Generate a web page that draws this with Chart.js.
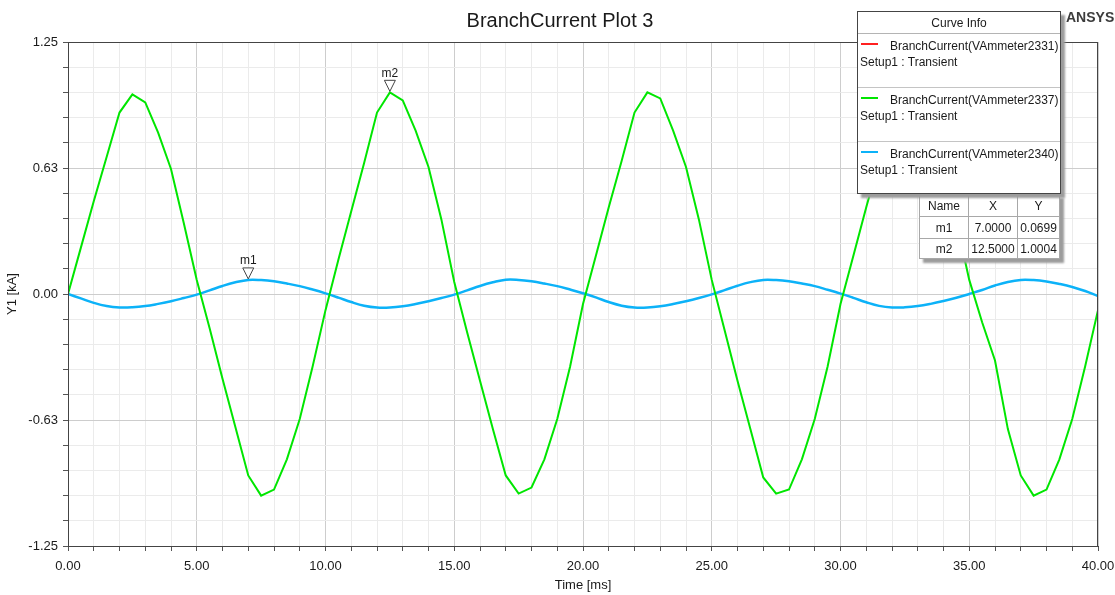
<!DOCTYPE html>
<html>
<head>
<meta charset="utf-8">
<title>BranchCurrent Plot 3</title>
<script src="https://cdn.jsdelivr.net/npm/chart.js@4.4.1/dist/chart.umd.min.js"></script>
<style>
  body { margin: 0; background: #fff; font-family: "Liberation Sans", Arial, sans-serif; color: #1a1a1a; }
  #wrap { position: relative; width: 1115px; height: 595px; }
  #brand { position: absolute; left: 1066px; top: 9px; font-size: 14px; line-height: 16px; font-weight: bold; color: #3c3c3c; }
  #curveInfo { position: absolute; left: 857px; top: 11px; width: 204px; height: 183px; box-sizing: border-box;
    border: 1px solid #444; background: #fff; box-shadow: 4px 4px 2px #9c9c9c; z-index: 3; font-size: 12px; }
  #curveInfo .head { position: absolute; left: 0; top: 0; width: 100%; height: 21px; line-height: 22px; text-align: center;
    border-bottom: 1px solid #b4b4b4; }
  #curveInfo .sep { position: absolute; left: 0; width: 100%; height: 0; border-top: 1px solid #c4c4c4; }
  #curveInfo .swatch { position: absolute; left: 3px; width: 17px; height: 2px; }
  #curveInfo .txt { position: absolute; line-height: 14px; white-space: nowrap; }
  #markerTable { position: absolute; left: 919px; top: 194px; border-collapse: collapse; background: #fff;
    box-shadow: 4px 4px 2px #9c9c9c; z-index: 2; font-size: 12px; border: 1px solid #444; }
  #markerTable td { border: 1px solid #a8a8a8; text-align: center; padding: 0; }
</style>
</head>
<body>
<div id="wrap">
  <canvas id="plot"></canvas>
  <div id="brand">ANSYS</div>
  <div id="curveInfo"></div>
  <table id="markerTable"></table>
</div>
<script>
// time axis [ms] and the branch currents [kA]
const timeMs = [
  0, 0.5, 1, 1.5, 2, 2.5, 3, 3.5, 4, 4.5,
  5, 5.5, 6, 6.5, 7, 7.5, 8, 8.5, 9, 9.5,
  10, 10.5, 11, 11.5, 12, 12.5, 13, 13.5, 14, 14.5,
  15, 15.5, 16, 16.5, 17, 17.5, 18, 18.5, 19, 19.5,
  20, 20.5, 21, 21.5, 22, 22.5, 23, 23.5, 24, 24.5,
  25, 25.5, 26, 26.5, 27, 27.5, 28, 28.5, 29, 29.5,
  30, 30.5, 31, 31.5, 32, 32.5, 33, 33.5, 34, 34.5,
  35, 35.5, 36, 36.5, 37, 37.5, 38, 38.5, 39, 39.5,
  40
];
const iVA2337 = [
  0.00, 0.23, 0.46, 0.68, 0.90, 0.99, 0.95, 0.80, 0.62, 0.35,
  0.07, -0.17, -0.42, -0.66, -0.90, -1.00, -0.97, -0.82, -0.62, -0.36,
  -0.08, 0.17, 0.41, 0.65, 0.90, 1.00, 0.96, 0.81, 0.63, 0.37,
  0.06, -0.19, -0.43, -0.67, -0.90, -0.99, -0.96, -0.82, -0.62, -0.36,
  -0.05, 0.19, 0.43, 0.66, 0.90, 1.00, 0.97, 0.81, 0.63, 0.37,
  0.07, -0.18, -0.43, -0.67, -0.91, -0.99, -0.97, -0.82, -0.62, -0.36,
  -0.05, 0.19, 0.43, 0.66, 0.90, 1.00, 0.96, 0.80, 0.62, 0.36,
  0.07, -0.14, -0.33, -0.67, -0.90, -1.00, -0.97, -0.82, -0.62, -0.36,
  -0.08
];
const iVA2340 = [
  0.000, -0.022, -0.044, -0.060, -0.067, -0.066, -0.060, -0.049, -0.036, -0.020,
  -0.003, 0.018, 0.040, 0.058, 0.070, 0.069, 0.063, 0.052, 0.039, 0.022,
  0.003, -0.018, -0.040, -0.058, -0.067, -0.067, -0.061, -0.050, -0.036, -0.020,
  -0.003, 0.018, 0.040, 0.058, 0.071, 0.070, 0.063, 0.052, 0.039, 0.022,
  0.004, -0.017, -0.040, -0.058, -0.067, -0.067, -0.061, -0.050, -0.036, -0.020,
  -0.002, 0.019, 0.041, 0.059, 0.070, 0.069, 0.063, 0.052, 0.039, 0.021,
  0.002, -0.019, -0.041, -0.059, -0.067, -0.066, -0.060, -0.049, -0.035, -0.019,
  0.000, 0.020, 0.042, 0.060, 0.070, 0.069, 0.062, 0.050, 0.035, 0.015,
  -0.010
];
// the red trace (VAmmeter2331) is not visible in the plot: it lies under the green one
const iVA2331 = iVA2337;

const seriesNames = ['BranchCurrent(VAmmeter2331)', 'BranchCurrent(VAmmeter2337)', 'BranchCurrent(VAmmeter2340)'];
const setupName = 'Setup1 : Transient';

const xTickValues = [0, 5, 10, 15, 20, 25, 30, 35, 40];
const xTickLabels = ['0.00', '5.00', '10.00', '15.00', '20.00', '25.00', '30.00', '35.00', '40.00'];
const yTickValues = [-1.25, -0.625, 0, 0.625, 1.25];
const yTickLabels = ['-1.25', '-0.63', '0.00', '0.63', '1.25'];

const markerNames = ['m1', 'm2'];
const markerX = [7.0, 12.5];
const markerY = [0.0699, 1.0004];

// styles
const colRed = '#ff2020', colGreen = '#00e600', colBlue = '#0cb2f8';
const gridMajor = '#cdcdcd', gridMinor = '#ebebeb';
const font = '"Liberation Sans", Arial, sans-serif';

function pts(values) {
    return timeMs.map((t, i) => ({ x: t, y: values[i] }));
}
function findTick(list, v) {
    return list.findIndex(t => Math.abs(t - v) < 1e-6);
}

const framePlugin = {
    id: 'frame',
    afterDatasetsDraw(chart) {
        const a = chart.chartArea, ctx = chart.ctx;
        ctx.save();
        ctx.strokeStyle = '#444';
        ctx.lineWidth = 1;
        ctx.strokeRect(Math.round(a.left) + 0.5, Math.round(a.top) + 0.5, Math.round(a.right - a.left) - 1, Math.round(a.bottom - a.top));
        ctx.restore();
    }
};

const markerPlugin = {
    id: 'markers',
    afterDatasetsDraw(chart) {
        const ctx = chart.ctx, x = chart.scales.x, y = chart.scales.y;
        ctx.save();
        markerNames.forEach((name, i) => {
            const px = x.getPixelForValue(markerX[i]);
            const py = y.getPixelForValue(markerY[i]) - 1;
            ctx.beginPath();
            ctx.moveTo(px, py);
            ctx.lineTo(px - 5.5, py - 11);
            ctx.lineTo(px + 5.5, py - 11);
            ctx.closePath();
            ctx.fillStyle = '#fff';
            ctx.fill();
            ctx.strokeStyle = '#444';
            ctx.lineWidth = 1;
            ctx.stroke();
            ctx.fillStyle = '#1a1a1a';
            ctx.font = '12px ' + font;
            ctx.textAlign = 'center';
            ctx.textBaseline = 'middle';
            ctx.fillText(name, px, py - 18);
        });
        ctx.restore();
    }
};

var ctx = document.getElementById('plot').getContext('2d');
var myChart = new Chart(ctx, {
    type: 'line',
    data: {
        datasets: [
            { label: seriesNames[1], data: pts(iVA2337), borderColor: colGreen, borderWidth: 2, pointRadius: 0, tension: 0 },
            { label: seriesNames[2], data: pts(iVA2340), borderColor: colBlue, borderWidth: 2.5, pointRadius: 0, tension: 0.4 },
            { label: seriesNames[0], data: pts(iVA2331), borderColor: colRed, borderWidth: 2, pointRadius: 0, tension: 0, hidden: true }
        ]
    },
    options: {
        responsive: true,
        maintainAspectRatio: false,
        animation: false,
        layout: { padding: { left: 5, right: 0, top: 0, bottom: 0 } },
        plugins: {
            legend: { display: false },
            tooltip: { enabled: false },
            title: {
                display: true,
                text: 'BranchCurrent Plot 3',
                color: '#1a1a1a',
                font: { family: font, size: 20, weight: 'normal' },
                padding: { top: 9, bottom: 9 }
            }
        },
        scales: {
            x: {
                type: 'linear',
                min: 0,
                max: 40,
                afterFit: s => { s.height = 49; s.paddingLeft = 0; s.paddingRight = 17; },
                border: { color: '#444', width: 1 },
                grid: {
                    color: c => (c.tick && findTick(xTickValues, c.tick.value) >= 0) ? gridMajor : gridMinor,
                    tickColor: '#555',
                    tickLength: 5
                },
                ticks: {
                    stepSize: 1,
                    autoSkip: false,
                    maxRotation: 0,
                    padding: 8,
                    color: '#1a1a1a',
                    font: { family: font, size: 13 },
                    callback: v => { const k = findTick(xTickValues, v); return k >= 0 ? xTickLabels[k] : ''; }
                },
                title: { display: true, text: 'Time [ms]', color: '#1a1a1a', font: { family: font, size: 13 }, padding: { top: 0, bottom: 2 } }
            },
            y: {
                min: -1.25,
                max: 1.25,
                afterFit: s => { s.width = 63; },
                border: { color: '#444', width: 1 },
                grid: {
                    color: c => (c.tick && findTick(yTickValues, c.tick.value) >= 0) ? gridMajor : gridMinor,
                    tickColor: '#555',
                    tickLength: 5
                },
                ticks: {
                    stepSize: 0.125,
                    autoSkip: false,
                    padding: 5,
                    color: '#1a1a1a',
                    font: { family: font, size: 13 },
                    callback: v => { const k = findTick(yTickValues, v); return k >= 0 ? yTickLabels[k] : ''; }
                },
                title: { display: true, text: 'Y1 [kA]', color: '#1a1a1a', font: { family: font, size: 13 }, padding: { top: 0, bottom: 0 } }
            }
        }
    },
    plugins: [framePlugin, markerPlugin]
});

// Curve Info box
const info = document.getElementById('curveInfo');
const swatchColors = [colRed, colGreen, colBlue];
let html = '<div class="head">Curve Info</div>';
seriesNames.forEach((name, i) => {
    const top = 21 + i * 54;
    if (i > 0) html += '<div class="sep" style="top:' + top + 'px"></div>';
    html += '<div class="swatch" style="top:' + (top + 10) + 'px;background:' + swatchColors[i] + '"></div>';
    html += '<div class="txt" style="left:32px;top:' + (top + 6) + 'px">' + name + '</div>';
    html += '<div class="txt" style="left:2px;top:' + (top + 22) + 'px">' + setupName + '</div>';
});
info.innerHTML = html;

// marker table
const colW = [48, 48, 41];
let rows = '<tr style="height:22px"><td style="width:' + colW[0] + 'px">Name</td><td style="width:' + colW[1] + 'px">X</td><td style="width:' + colW[2] + 'px">Y</td></tr>';
markerNames.forEach((name, i) => {
    rows += '<tr style="height:' + (i === 0 ? 22 : 20) + 'px"><td>' + name + '</td><td>' + markerX[i].toFixed(4) + '</td><td>' + markerY[i].toFixed(4) + '</td></tr>';
});
document.getElementById('markerTable').innerHTML = rows;
</script>
</body>
</html>
